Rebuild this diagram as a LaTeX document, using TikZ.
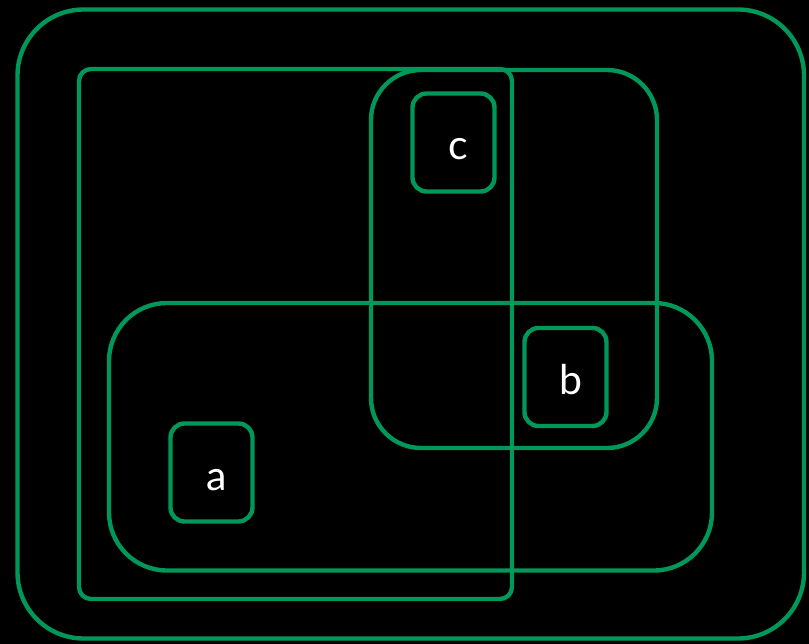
\documentclass[tikz,border=0pt]{standalone}
\usepackage{fontspec}
\setmainfont{Lato}
\usepackage{tikz}
\usetikzlibrary{positioning}
\definecolor{setgreen}{HTML}{00985A}
\definecolor{canvas}{HTML}{000000}

\begin{document}
\begin{tikzpicture}[
  x=1pt, y=-1pt,
  setbox/.style={draw=setgreen, line width=4.4pt},
  elembox/.style={setbox, rounded corners=14pt, minimum width=82pt, minimum height=98pt,
    inner sep=0pt, text=white, font=\fontsize{41}{48}\selectfont,
    text height=35pt, text depth=0pt, execute at begin node={\kern10pt}}
]
  % background and page size
  \fill[canvas] (0,0) rectangle (809,644);
  \useasboundingbox (0,0) rectangle (809,644);

  % sets
  \draw[setbox, rounded corners=66pt] (17.5,9.5) rectangle (804,638.5);
  \draw[setbox, rounded corners=12pt] (79,69) rectangle (512,599);
  \draw[setbox, rounded corners=50pt] (371,70) rectangle (657,448);
  \draw[setbox, rounded corners=58pt] (109,303) rectangle (712,570.5);

  % elements
  \node[elembox] (c) at (453.5,142.5) {c};
  \node[elembox] (b) at (565.5,377)   {b};
  \node[elembox] (a) at (211.5,472.5) {a};
\end{tikzpicture}
\end{document}
